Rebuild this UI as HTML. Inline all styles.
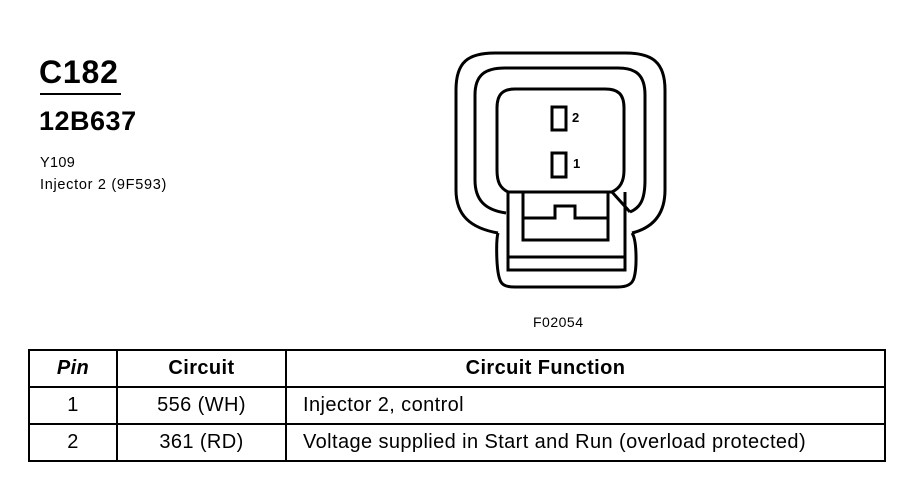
<!DOCTYPE html>
<html><head><style>
body{margin:0;background:#fff;width:908px;height:480px;overflow:hidden;position:relative;font-family:"Liberation Sans",Arial,sans-serif;color:#000}
.t{position:absolute;white-space:nowrap}
table{position:absolute;left:28px;top:349px;border-collapse:collapse;width:858px}
td{border:2.5px solid #000;font-size:20px;letter-spacing:0.4px;height:35px;padding:0}
</style></head><body>
<div class="t" style="left:39px;top:54px;font-size:32px;font-weight:bold;letter-spacing:0.8px">C182</div>
<div style="position:absolute;left:40px;top:93px;width:81px;height:2px;background:#000"></div>
<div class="t" style="left:39px;top:106px;font-size:27px;font-weight:bold;letter-spacing:0.5px">12B637</div>
<div class="t" style="left:40px;top:155px;font-size:14.5px;letter-spacing:0.3px">Y109</div>
<div class="t" style="left:40px;top:177px;font-size:14.5px;letter-spacing:0.7px">Injector 2 (9F593)</div>
<svg style="position:absolute;left:0;top:0" width="908" height="480" fill="none" stroke="#000" stroke-width="3">
<path d="M498 233 C470 228 456 215 456 190 L456 90 C456 62 468 53 495 53 L625 53 C652 53 665 62 665 90 L665 190 C665 215 652 228 632 233"/>
<path d="M506 213 C485 210 475 200 475 180 L475 95 C475 75 485 68 505 68 L618 68 C636 68 645 75 645 95 L645 180 C645 200 640 208 630 212"/>
<path d="M508 192 C500 188 497 182 497 170 L497 108 C497 94 503 89 515 89 L605 89 C618 89 624 94 624 108 L624 170 C624 182 620 188 612 192 Z"/>
<path d="M498 233 C496 240 496 270 500 280 C502 286 508 287 515 287 L618 287 C626 287 632 285 634 278 C637 268 637 240 632 233"/>
<path d="M508 192 L508 270 L625 270 L625 192"/>
<line x1="508" y1="257" x2="625" y2="257"/>
<path d="M523 192 L523 240 L608 240 L608 192"/>
<path d="M523 218 L555 218 L555 206 L575 206 L575 218 L608 218"/>
<path d="M612 192 L630 212"/>
<rect x="552" y="107" width="14" height="23"/>
<rect x="552" y="153" width="14" height="24"/>
<text x="572" y="122" font-size="13" stroke="none" fill="#000" font-family="Liberation Sans,sans-serif" font-weight="bold">2</text>
<text x="573" y="168" font-size="13" stroke="none" fill="#000" font-family="Liberation Sans,sans-serif" font-weight="bold">1</text>
</svg>
<div class="t" style="left:533px;top:314px;font-size:14px;letter-spacing:0.5px">F02054</div>
<table>
<tr><td style="width:86px;text-align:center;font-weight:bold;font-style:italic">Pin</td><td style="width:167px;text-align:center;font-weight:bold">Circuit</td><td style="text-align:center;font-weight:bold;padding-right:80px">Circuit Function</td></tr>
<tr><td style="text-align:center">1</td><td style="text-align:center">556 (WH)</td><td style="padding-left:16px">Injector 2, control</td></tr>
<tr><td style="text-align:center">2</td><td style="text-align:center">361 (RD)</td><td style="padding-left:16px">Voltage supplied in Start and Run (overload protected)</td></tr>
</table>
</body></html>
